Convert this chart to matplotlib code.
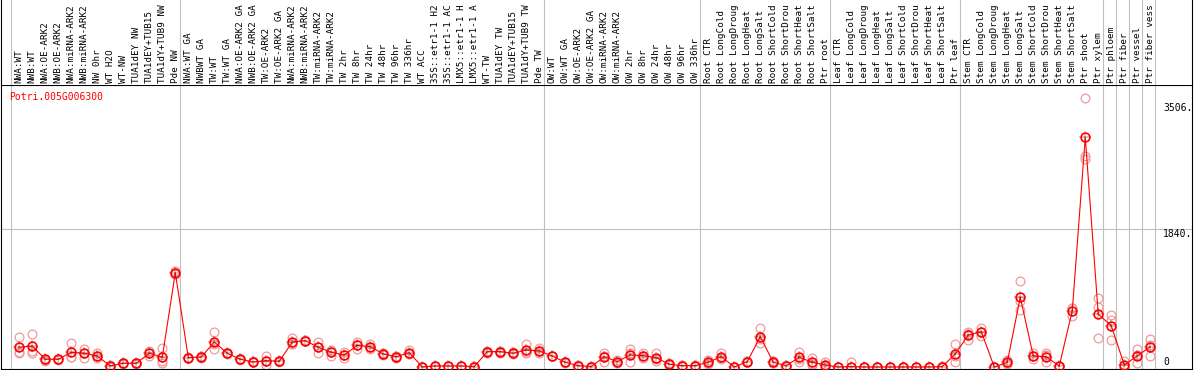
import matplotlib
matplotlib.use("Agg")
import matplotlib.pyplot as plt
import matplotlib.transforms as mtransforms
import numpy as np

# sample labels as shown (cut to 14 characters), grouped as in the reference
group_nw = ["NWA:WT", "NWB:WT", "NWA:OE-ARK2", "NWB:OE-ARK2", "NWA:miRNA-ARK2",
            "NWB:miRNA-ARK2", "NW 0hr", "WT H2O", "WT-NW", "TUA1dEY NW",
            "TUA1dEY+TUB15", "TUA1dY+TUB9 NW", "Pde NW"]
group_tw = ["NWA:WT GA", "NWBWT GA", "TW:WT", "TW:WT GA", "NWA:OE-ARK2 GA",
            "NWB:OE-ARK2 GA", "TW:OE-ARK2", "TW:OE-ARK2 GA", "NWA:miRNA-ARK2",
            "NWB:miRNA-ARK2", "TW:miRNA-ARK2", "TW:miRNA-ARK2", "TW 2hr", "TW 8hr",
            "TW 24hr", "TW 48hr", "TW 96hr", "TW 336hr", "WT ACC",
            "35S::etr1-1 H2", "35S::etr1-1 AC", "LMX5::etr1-1 H",
            "LMX5::etr1-1 A", "WT-TW", "TUA1dEY TW", "TUA1dEY+TUB15",
            "TUA1dY+TUB9 TW", "Pde TW"]
group_ow = ["OW:WT", "OW:WT GA", "OW:OE-ARK2", "OW:OE-ARK2 GA", "OW:miRNA-ARK2",
            "OW:miRNA-ARK2", "OW 2hr", "OW 8hr", "OW 24hr", "OW 48hr", "OW 96hr",
            "OW 336hr"]
group_root = ["Root CTR", "Root LongCold", "Root LongDroug", "Root LongHeat",
              "Root LongSalt", "Root ShortCold", "Root ShortDrou",
              "Root ShortHeat", "Root ShortSalt", "Ptr root"]
group_leaf = ["Leaf CTR", "Leaf LongCold", "Leaf LongDroug", "Leaf LongHeat",
              "Leaf LongSalt", "Leaf ShortCold", "Leaf ShortDrou",
              "Leaf ShortHeat", "Leaf ShortSalt", "Ptr leaf"]
group_stem = ["Stem CTR", "Stem LongCold", "Stem LongDroug", "Stem LongHeat",
              "Stem LongSalt", "Stem ShortCold", "Stem ShortDrou",
              "Stem ShortHeat", "Stem ShortSalt", "Ptr shoot", "Ptr xylem"]
group_ptr = [["Ptr phloem"], ["Ptr fiber"], ["Ptr vessel"], ["Ptr fiber vess"]]

groups = [group_nw, group_tw, group_ow, group_root, group_leaf, group_stem] + group_ptr
labels = [lab for g in groups for lab in g]

# mean expression per sample
means = [262, 279, 102, 102, 195, 182, 146, 13, 49, 49, 182, 129, 1254,
         124, 133, 332, 182, 102, 66, 84, 75, 332, 350, 262, 195, 160, 288, 270,
         173, 137, 190, 0, 13, 13, 13, 5, 204, 204, 182, 226, 213,
         146, 62, 18, 5, 137, 71, 160, 151, 124, 35, 18, 18,
         62, 137, 0, 71, 403, 62, 18, 129, 62, 27,
         0, 5, 0, 0, 0, 0, 0, 0, 5, 173,
         425, 470, 0, 62, 927, 146, 137, 13, 749, 3054, 701,
         549, 27, 146, 270]

# replicate values per sample
reps = [[399, 204, 190], [439, 190, 210], [83, 110, 95], [95, 102, 110],
        [319, 137, 130], [235, 124, 190], [182, 115, 140], [13, 5, 20],
        [49, 45, 55], [49, 45, 55], [217, 146, 182], [253, 80, 55],
        [1270, 1254, 1240],
        [130, 115, 124], [140, 125, 133], [465, 235, 300], [190, 175, 182],
        [108, 90, 102], [80, 60, 60], [146, 27, 84], [75, 70, 80],
        [386, 310, 300], [360, 340, 350], [336, 182, 262], [230, 146, 195],
        [204, 124, 160], [336, 240, 288], [300, 240, 270], [180, 165, 173],
        [150, 115, 137], [230, 170, 175], [0, 0, 0], [13, 10, 15], [13, 10, 15],
        [13, 10, 15], [5, 0, 10], [215, 190, 204], [215, 190, 204],
        [195, 170, 182], [301, 182, 195], [250, 180, 213],
        [150, 140, 146], [70, 55, 62], [18, 15, 22], [0, 10, 5], [190, 71, 150],
        [93, 70, 50], [239, 62, 180], [190, 115, 151], [182, 110, 80],
        [50, 25, 30], [18, 15, 22], [18, 15, 22],
        [93, 40, 55], [182, 110, 120], [0, 0, 0], [75, 65, 71], [519, 315, 375],
        [80, 50, 55], [18, 15, 22], [204, 71, 112], [115, 30, 40], [62, 5, 15],
        [0, 0, 0], [62, 0, 0], [0, 0, 0], [0, 0, 0], [0, 0, 0], [0, 0, 0],
        [0, 0, 0], [0, 0, 0], [5, 0, 10], [301, 71, 150],
        [470, 359, 445], [523, 470, 417], [0, 0, 0], [93, 50, 45],
        [1144, 758, 880], [182, 146, 110], [182, 71, 158], [13, 10, 15],
        [789, 678, 780], [3573, 2806, 2766], [914, 802, 390],
        [691, 625, 359], [80, 0, 0], [235, 49, 155], [372, 146, 290]]

gene = "Potri.005G006300"
ytick_vals = [3506, 1840, 0]

W, H = 1194, 370
fig = plt.figure(figsize=(W / 100, H / 100), dpi=100)

plot_top = 85
ax = fig.add_axes([1 / W, 1 / H, 1191 / W, (H - 1 - plot_top) / H])
ax_lab = fig.add_axes([1 / W, 1 - plot_top / H, 1191 / W, plot_top / H])

x = np.arange(len(labels))
xlim = (-1.408, 90.21)
ylim = (-27, 3750)

mono = "DejaVu Sans Mono"
grey = "#c0c0c0"

# group separators, full height
bounds = np.cumsum([len(g) for g in groups]) - 1
seps = [-1] + list(bounds)
for a in (ax, ax_lab):
    for s in seps:
        a.axvline(s + 0.38, color=grey, lw=0.8, zorder=0)
    a.set_xlim(*xlim)
    a.set_xticks([])
    a.set_yticks([])
    for sp in a.spines.values():
        sp.set_color("black")
        sp.set_linewidth(0.8)

ax_lab.spines["top"].set_visible(False)
ax_lab.spines["bottom"].set_visible(False)
ax_lab.set_ylim(0, 1)

ax.set_ylim(*ylim)
ax.axhline(1840, color=grey, lw=0.8, zorder=0)

# replicates
for i, r in enumerate(reps):
    ax.plot([i] * len(r), r, linestyle="none", marker="o", markersize=6.3,
            markerfacecolor="none", markeredgecolor="#f09a9a",
            markeredgewidth=0.9, zorder=2)

# means
ax.plot(x, means, color="red", lw=0.8, zorder=3)
ax.plot(x, means, linestyle="none", marker="+", markersize=8.5,
        markeredgecolor="#8a1010", markeredgewidth=0.35, zorder=3)
ax.plot(x, means, linestyle="none", marker="o", markersize=6.3,
        markerfacecolor="none", markeredgecolor="red",
        markeredgewidth=1.2, zorder=4)

ax.text(0.007, 0.975, gene, transform=ax.transAxes, color="red",
        family=mono, fontsize=7, ha="left", va="top")

ytr = mtransforms.blended_transform_factory(ax.transAxes, ax.transData)
for v in ytick_vals:
    ax.text(0.9757, v, "0" if v == 0 else f"{v}.", transform=ytr,
            family=mono, fontsize=7, ha="left",
            va="bottom" if v == 0 else "top")

# sample labels
ltr = mtransforms.blended_transform_factory(ax_lab.transData, ax_lab.transAxes)
for i, lab in enumerate(labels):
    ax_lab.text(i, 2 / plot_top, lab, transform=ltr, rotation=90,
                family=mono, fontsize=6.7, ha="center", va="bottom",
                clip_on=False)

fig.savefig("out.png", dpi=100)
